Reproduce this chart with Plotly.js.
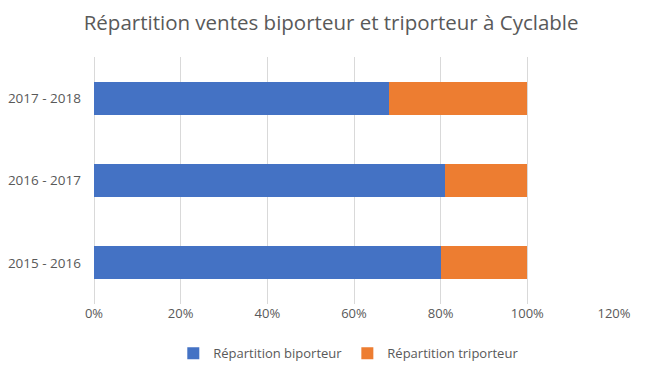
<!DOCTYPE html>
<html>
<head>
<meta charset="utf-8">
<script src="https://cdn.plot.ly/plotly-3.0.1.min.js"></script>
<style>html,body{margin:0;padding:0;background:#fff}#chart{width:648px;height:381px}</style>
</head>
<body>
<div id="chart"></div>
<script>
const categories = ["2015 - 2016", "2016 - 2017", "2017 - 2018"];
const biporteur = [0.80, 0.81, 0.68];
const triporteur = [0.20, 0.19, 0.32];
const tickValues = [0, 0.2, 0.4, 0.6, 0.8, 1.0, 1.2];
const tickLabels = ["0%", "20%", "40%", "60%", "80%", "100%", "120%"];

const font = "Open Sans, Liberation Sans, sans-serif";
const traces = [
  {type: "bar", orientation: "h", name: "Répartition biporteur", y: categories, x: biporteur,
   marker: {color: "#4472C4"}, width: 0.4, hoverinfo: "x+y"},
  {type: "bar", orientation: "h", name: "Répartition triporteur", y: categories, x: triporteur,
   marker: {color: "#ED7D31"}, width: 0.4, hoverinfo: "x+y"}
];
const layout = {
  width: 648, height: 381,
  barmode: "stack",
  paper_bgcolor: "#fff", plot_bgcolor: "#fff",
  margin: {l: 94, r: 34, t: 57, b: 75},
  title: {text: "Répartition ventes biporteur et triporteur à Cyclable", xref: "container", x: 0.511, xanchor: "center", y: 0.94, yanchor: "middle",
          font: {family: font, size: 20.5, color: "#595959"}},
  xaxis: {range: [0, 1.2], tickvals: tickValues, ticktext: tickLabels, showgrid: true, gridcolor: "#D9D9D9", gridwidth: 1,
          zeroline: true, zerolinecolor: "#D9D9D9", showline: false, ticks: "", ticklen: 0,
          tickfont: {family: font, size: 13, color: "#595959"}, fixedrange: true},
  yaxis: {type: "category", categoryorder: "array", categoryarray: categories, showgrid: false, zeroline: false,
          showline: false, ticks: "", ticklabelstandoff: 12,
          tickfont: {family: font, size: 13.5, color: "#595959"}, fixedrange: true},
  showlegend: true,
  legend: {orientation: "h", x: 0.49, xanchor: "center", y: -0.2, yanchor: "middle", traceorder: "normal",
           font: {family: font, size: 13, color: "#595959"}, itemwidth: 30},
  bargap: 0.6
};
Plotly.newPlot("chart", traces, layout, {displayModeBar: false, staticPlot: true});
</script>
</body>
</html>
